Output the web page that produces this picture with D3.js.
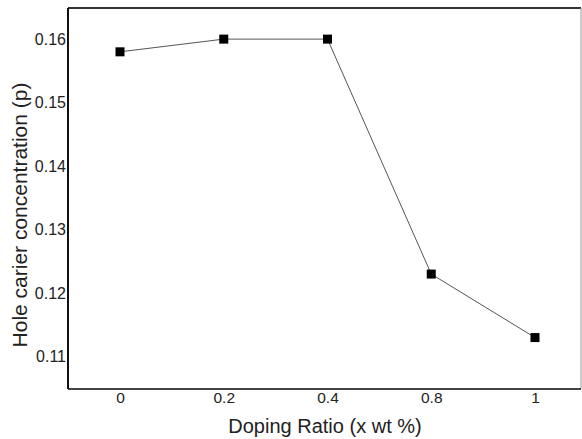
<!DOCTYPE html>
<html>
<head>
<meta charset="utf-8">
<style>
  body { margin: 0; background: #fff; }
  text { font-family: "Liberation Sans", Arial, sans-serif; fill: #222; }
</style>
</head>
<body>
<svg width="582" height="439"></svg>
<script src="https://d3js.org/d3.v7.min.js"></script>
<script>
var ratios = ["0", "0.2", "0.4", "0.8", "1"];
var holeConc = [0.158, 0.160, 0.160, 0.123, 0.113];
var yTicks = [0.11, 0.12, 0.13, 0.14, 0.15, 0.16];

var svg = d3.select("svg");
var plotL = 68, plotR = 581, plotT = 8, plotB = 389;

var x = d3.scalePoint()
    .domain(ratios)
    .range([120, 535]);

var y = d3.scaleLinear()
    .domain([0.1049, 0.1649])
    .range([plotB, plotT]);

// frame
svg.append("line").attr("x1", plotL).attr("x2", plotR).attr("y1", plotT).attr("y2", plotT)
    .attr("stroke", "#333").attr("stroke-width", 1.8);
svg.append("line").attr("x1", plotR).attr("x2", plotR).attr("y1", plotT).attr("y2", plotB)
    .attr("stroke", "#999").attr("stroke-width", 1);
svg.append("line").attr("x1", plotL).attr("x2", plotR).attr("y1", plotB).attr("y2", plotB)
    .attr("stroke", "#444").attr("stroke-width", 1.8);
svg.append("line").attr("x1", plotL).attr("x2", plotL).attr("y1", plotT).attr("y2", plotB)
    .attr("stroke", "#111").attr("stroke-width", 2);

// axes (labels only)
var xAxis = svg.append("g")
    .attr("transform", "translate(0," + plotB + ")")
    .call(d3.axisBottom(x).tickSize(0).tickPadding(3));
xAxis.select(".domain").remove();
xAxis.attr("font-size", 15.5).attr("font-family", "Liberation Sans, Arial, sans-serif");
xAxis.selectAll("text").attr("fill", "#222");

var yAxis = svg.append("g")
    .attr("transform", "translate(" + (plotL - 1) + ",0)")
    .call(d3.axisLeft(y).tickValues(yTicks).tickSize(0).tickPadding(1).tickFormat(d3.format(".2f")));
yAxis.select(".domain").remove();
yAxis.attr("font-size", 16).attr("font-family", "Liberation Sans, Arial, sans-serif");
yAxis.selectAll("text").attr("fill", "#222");

// titles
svg.append("text")
    .attr("x", 325).attr("y", 433)
    .attr("text-anchor", "middle")
    .attr("font-size", 20)
    .text("Doping Ratio (x wt %)");

svg.append("text")
    .attr("transform", "translate(27,215) rotate(-90)")
    .attr("text-anchor", "middle")
    .attr("font-size", 21)
    .text("Hole carier concentration (p)");

// line + markers
var pts = ratios.map(function(r, i) { return [r, holeConc[i]]; });

svg.append("path")
    .datum(pts)
    .attr("fill", "none")
    .attr("stroke", "#555")
    .attr("stroke-width", 1)
    .attr("d", d3.line()
        .x(function(d) { return x(d[0]); })
        .y(function(d) { return y(d[1]); }));

svg.selectAll("rect.pt")
    .data(pts)
    .enter().append("rect")
    .attr("class", "pt")
    .attr("x", function(d) { return x(d[0]) - 4.5; })
    .attr("y", function(d) { return y(d[1]) - 4.5; })
    .attr("width", 9)
    .attr("height", 9)
    .attr("fill", "#000");
</script>
</body>
</html>
